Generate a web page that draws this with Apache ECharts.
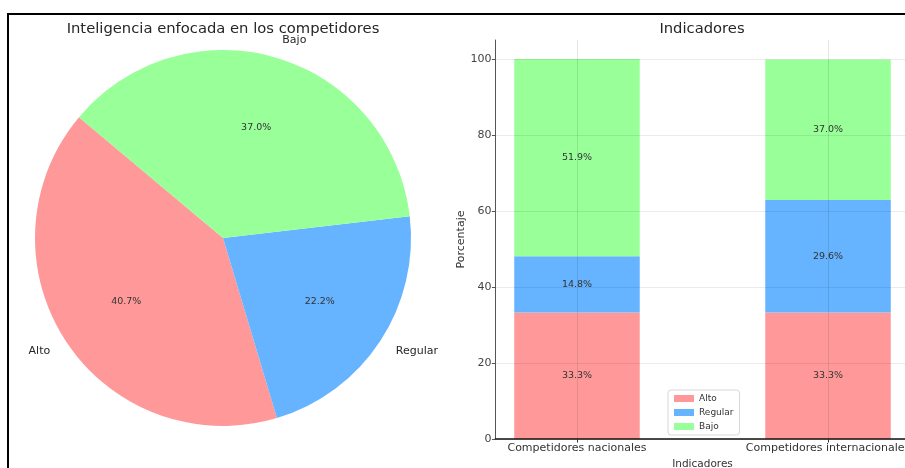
<!DOCTYPE html>
<html>
<head>
<meta charset="utf-8">
<script src="https://cdn.jsdelivr.net/npm/echarts@6/dist/echarts.min.js"></script>
<style>
  html, body { margin: 0; padding: 0; background: #fff; }
  #chart { width: 905px; height: 468px; }
</style>
</head>
<body>
<div id="chart"></div>
<script>
// Level names shared by both panels
const levels = ['Alto', 'Regular', 'Bajo'];
const levelColors = ['#ff9999', '#66b3ff', '#99ff99'];

// Pie: share of each level (%)
const pieValues = [40.7, 22.2, 37.0];

// Stacked bars: one value per category for each level (%)
const categories = ['Competidores nacionales', 'Competidores internacionales'];
const altoValues = [33.3, 33.3];
const regularValues = [14.8, 29.6];
const bajoValues = [51.9, 37.0];

// Y-axis tick labels
const yTicks = [0, 20, 40, 60, 80, 100];

const FONT = 'DejaVu Sans';
const chart = echarts.init(document.getElementById('chart'), null, { renderer: 'canvas' });

const pieCenter = [223, 238];
const pieR = 188;

// Each bar item is [percentage, category position]; the value dimension comes
// first so that stacking accumulates along the y axis.
const barSeries = [altoValues, regularValues, bajoValues].map((vals, k) => ({
  name: levels[k],
  type: 'bar',
  stack: 'total',
  barWidth: 125.5,
  dimensions: ['pct', 'pos'],
  encode: { x: 'pos', y: 'pct' },
  itemStyle: { color: levelColors[k] },
  label: {
    show: true,
    position: 'inside',
    fontFamily: FONT,
    fontSize: 9.5,
    color: '#333',
    formatter: p => p.value[0].toFixed(1) + '%'
  },
  emphasis: { disabled: true },
  data: vals.map((v, i) => [v, i])
}));

const titleStyle = { fontFamily: FONT, fontSize: 14.75, fontWeight: 'normal', color: '#262626' };

const option = {
  backgroundColor: '#fff',
  animation: false,
  textStyle: { fontFamily: FONT },
  title: [
    { text: 'Inteligencia enfocada en los competidores', left: 218, top: 17, textAlign: 'center', textStyle: titleStyle },
    { text: 'Indicadores', left: 697, top: 17, textAlign: 'center', textStyle: titleStyle }
  ],
  legend: {
    data: levels,
    orient: 'vertical',
    left: 668, top: 390,
    itemWidth: 20, itemHeight: 7, itemGap: 5,
    icon: 'rect',
    padding: [4, 6, 4, 6],
    backgroundColor: '#fff',
    borderColor: '#d8d8d8', borderWidth: 1, borderRadius: 3,
    textStyle: { fontFamily: FONT, fontSize: 9, color: '#333' },
    selectedMode: false
  },
  grid: {
    left: 495.4, right: -4.6, top: 40, bottom: 29,
    containLabel: false,
    outerBoundsMode: 'none'
  },
  xAxis: {
    type: 'value',
    min: -0.325, max: 1.325,
    name: 'Indicadores',
    nameLocation: 'middle', nameGap: 17,
    nameTextStyle: { fontFamily: FONT, fontSize: 10.5, color: '#333' },
    z: 5,
    axisLine: { show: true, onZero: false, lineStyle: { color: '#111', width: 1.5 } },
    axisTick: { show: true, length: 3.5, customValues: [0, 1], lineStyle: { color: '#333' } },
    axisLabel: {
      customValues: [0, 1],
      hideOverlap: false,
      fontFamily: FONT, fontSize: 11, color: '#333', margin: 4,
      formatter: v => categories[Math.round(v)] || ''
    },
    splitLine: { show: true, lineStyle: { color: 'rgba(0,0,0,0.10)', width: 1 } }
  },
  yAxis: {
    type: 'value',
    min: 0, max: 105, interval: 20,
    name: 'Porcentaje',
    nameLocation: 'middle', nameGap: 28,
    nameTextStyle: { fontFamily: FONT, fontSize: 11, color: '#333' },
    z: 5,
    axisLine: { show: true, onZero: false, lineStyle: { color: '#555', width: 1 } },
    axisTick: { show: true, length: 3.5, customValues: yTicks, lineStyle: { color: '#555' } },
    axisLabel: {
      customValues: yTicks,
      fontFamily: FONT, fontSize: 11, color: '#444', margin: 4
    },
    splitLine: { show: true, lineStyle: { color: 'rgba(0,0,0,0.08)', width: 1 } }
  },
  series: [
    // Pie wedges with their level names placed just outside the rim
    {
      type: 'pie',
      center: pieCenter,
      radius: [0, pieR],
      startAngle: 140,
      clockwise: false,
      avoidLabelOverlap: false,
      silent: true,
      label: {
        show: true,
        position: 'outside',
        fontFamily: FONT, fontSize: 11, color: '#262626',
        distanceToLabelLine: 0,
        formatter: '{b}'
      },
      labelLine: { show: false, length: 18.8, length2: 0 },
      data: levels.map((n, i) => ({ name: n, value: pieValues[i], itemStyle: { color: levelColors[i] } }))
    },
    // Transparent ring that carries the percentage labels at 0.6 of the radius
    {
      type: 'pie',
      center: pieCenter,
      radius: [pieR * 0.4, pieR * 0.8],
      startAngle: 140,
      clockwise: false,
      avoidLabelOverlap: false,
      silent: true,
      itemStyle: { color: 'rgba(0,0,0,0)' },
      label: {
        show: true,
        position: 'inside',
        fontFamily: FONT, fontSize: 9.5, color: '#333',
        formatter: p => p.value.toFixed(1) + '%'
      },
      labelLine: { show: false },
      data: levels.map((n, i) => ({ name: n, value: pieValues[i] }))
    },
    ...barSeries
  ],
  graphic: [
    // frame lines along the top and left edges
    { type: 'line', shape: { x1: 7, y1: 14, x2: 905, y2: 14 }, style: { stroke: '#000', lineWidth: 2 }, z: 100 },
    { type: 'line', shape: { x1: 8, y1: 13, x2: 8, y2: 468 }, style: { stroke: '#000', lineWidth: 2 }, z: 100 }
  ]
};

chart.setOption(option);
</script>
</body>
</html>
